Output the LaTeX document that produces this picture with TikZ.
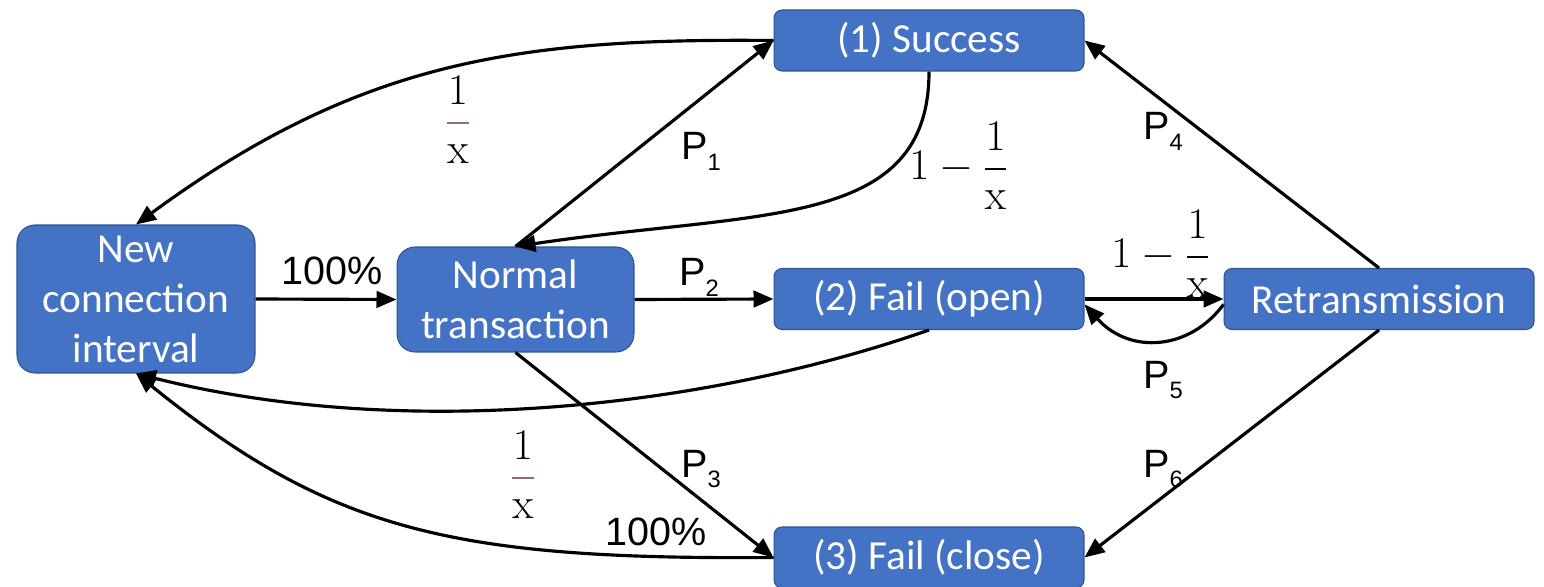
\documentclass[tikz,border=0pt]{standalone}
\usepackage[no-math]{fontspec}
\setmainfont{Carlito}
\newfontfamily\arialf{Liberation Sans}
\usetikzlibrary{arrows.meta}
\definecolor{boxblue}{HTML}{4472C4}
\definecolor{boxedge}{HTML}{2F528F}
\definecolor{barbrown}{HTML}{8C6E6E}
\newcommand{\Psub}[1]{P\raisebox{-5.7pt}{\fontsize{13.5}{14}\selectfont #1}}
\newcommand{\onex}{$\displaystyle{\color{barbrown}{\color{black}1}\above1.3pt{\color{black}\mathrm{x}}}$}
\newcommand{\oneminus}{$\displaystyle 1-{1\above1pt\mathrm{x}}$}
\begin{document}
\begin{tikzpicture}[x=0.02cm,y=-0.02cm,
  state/.style={draw=boxedge, line width=0.6pt, fill=boxblue, text=white,
    font=\fontsize{23.5}{28.5}\selectfont, align=center, inner sep=0pt},
  bigbox/.style={state, rounded corners=0.36cm},
  smallbox/.style={state, rounded corners=0.16cm, minimum width=6.2cm, minimum height=1.22cm},
  edge/.style={line width=1.8pt, -{Triangle[length=0.4cm,width=0.33cm]}},
  lab/.style={font=\arialf\fontsize{22.5}{26}\selectfont, inner sep=0pt, anchor=base west},
  mlab/.style={font=\fontsize{24}{28}\selectfont, inner sep=0pt}]
\useasboundingbox (0,0) rectangle (1544,587);

\node[bigbox, minimum width=4.76cm, minimum height=2.96cm] (nci) at (136,299) {New\\connection\\interval};
\node[bigbox, minimum width=4.74cm, minimum height=2.1cm] (normal) at (515.5,299.5) {Normal\\transaction};
\node[smallbox] (success) at (929,40.5) {(1) Success};
\node[smallbox] (failo) at (929,299) {(2) Fail (open)};
\node[smallbox] (retr) at (1379,299) {Retransmission};
\node[smallbox] (failc) at (929,557.5) {(3) Fail (close)};

\draw[edge] (nci.east) -- (normal.west);
\draw[edge] (normal.east) -- (failo.west);
\draw[edge] (normal.north) -- (success.west);
\draw[edge] (success.south) .. controls (929,230) and (760,210) .. (normal.north);
\draw[edge] (success.west) .. controls (520,38) and (360,60) .. (nci.north);
\draw[edge] (failo.east) -- (retr.west);
\draw[edge] (retr.182) .. controls (1190,350) and (1130,355) .. (failo.358);
\draw[edge] (failo.south) .. controls (700,410) and (400,440) .. (nci.south);
\draw[edge] (normal.south) -- (failc.west);
\draw[edge] (failc.west) .. controls (450,560) and (330,530) .. (nci.south);
\draw[edge] (retr.north) -- (success.east);
\draw[edge] (retr.south) -- (failc.east);

\node[lab] (t100a) at (281,285) {100\%};
\node[lab] (t100b) at (605,545) {100\%};
\node[lab] (p1) at (681,160) {\Psub{1}};
\node[lab] (p2) at (679,286) {\Psub{2}};
\node[lab] (p3) at (681,477) {\Psub{3}};
\node[lab] (p4) at (1143,140) {\Psub{4}};
\node[lab] (p5) at (1143,388) {\Psub{5}};
\node[lab] (p6) at (1143,477) {\Psub{6}};

\node[mlab] (fa) at (458,120) {\onex};
\node[mlab] (fb) at (523,475) {\onex};
\node[mlab, anchor=west] (fc) at (909,166) {\oneminus};
\node[mlab, anchor=west] (fd) at (1111,254) {\oneminus};
\end{tikzpicture}
\end{document}
